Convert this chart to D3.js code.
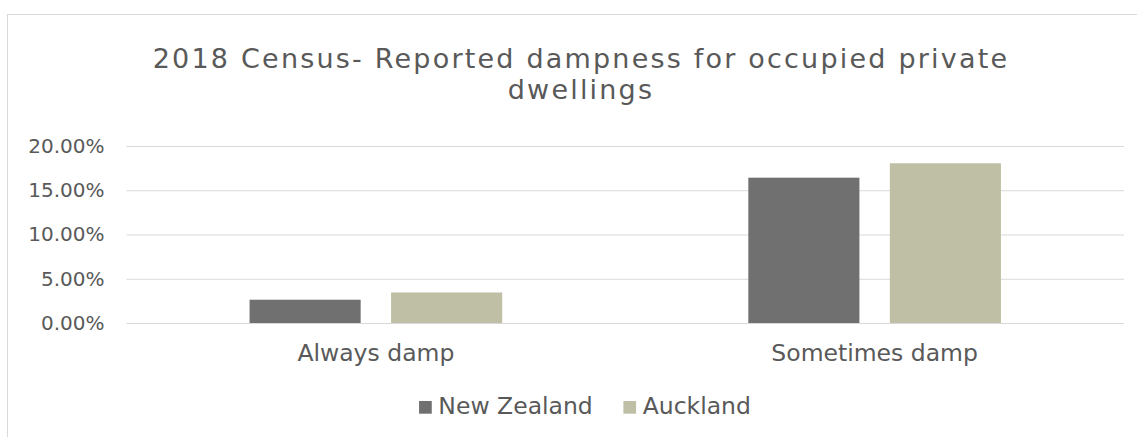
<!DOCTYPE html>
<html>
<head>
<meta charset="utf-8">
<script src="https://cdn.jsdelivr.net/npm/d3@7"></script>
<style>
  body { margin: 0; background: #fff; }
  svg { display: block; font-family: "DejaVu Sans", sans-serif; }
</style>
</head>
<body>
<svg id="chart" width="1137" height="437"></svg>
<script>
// data
var categories = ["Always damp", "Sometimes damp"];
var series = ["New Zealand", "Auckland"];
var newZealand = [0.0263, 0.1642];
var auckland = [0.0345, 0.1805];
var yTicks = [0, 0.05, 0.10, 0.15, 0.20];
var titleLines = ["2018 Census- Reported dampness for occupied private", "dwellings"];

var colors = ["#707070", "#bfbfa5"];
var textColor = "#595959";
var gridColor = "#d9d9d9";

var svg = d3.select("#chart");

var margin = {top: 146, right: 13, bottom: 114, left: 126.5},
    width = 1137 - margin.left - margin.right,
    height = 437 - margin.top - margin.bottom;

// chart area border (runs off the right / bottom of the shot)
svg.append("rect")
  .attr("x", 7.5).attr("y", 14.5)
  .attr("width", 1160).attr("height", 450)
  .attr("fill", "#fff")
  .attr("stroke", gridColor);

// title
var title = svg.append("text")
  .attr("text-anchor", "middle")
  .attr("fill", textColor)
  .style("font-size", "27px")
  .style("letter-spacing", "2.2px");
title.selectAll("tspan")
  .data(titleLines)
  .enter()
  .append("tspan")
    .attr("x", 581)
    .attr("y", function (d, i) { return 68 + i * 30.5; })
    .text(function (d) { return d; });

var g = svg.append("g")
  .attr("transform", "translate(" + margin.left + "," + margin.top + ")");

var y = d3.scaleLinear().domain([0, 0.20]).range([height, 0]);

var x0 = d3.scaleBand()
  .domain(categories)
  .range([0, width])
  .paddingInner(0.4935)
  .paddingOuter(0.24675);

var x1 = d3.scaleBand()
  .domain(series)
  .range([0, x0.bandwidth()])
  .paddingInner(0.215);

// gridlines
g.append("g")
  .call(d3.axisLeft(y).tickValues(yTicks).tickSize(-width).tickFormat(""))
  .call(function (a) {
    a.select(".domain").remove();
    a.selectAll("line").attr("stroke", gridColor);
  });

// y axis labels
g.append("g")
  .call(d3.axisLeft(y).tickValues(yTicks).tickSize(0).tickPadding(22).tickFormat(d3.format(".2%")))
  .call(function (a) {
    a.select(".domain").remove();
    a.selectAll("text")
      .attr("fill", textColor)
      .style("font-size", "20px")
      .style("font-family", "DejaVu Sans, sans-serif");
  });

// bars
var rows = categories.map(function (c, i) {
  return {category: c, values: [newZealand[i], auckland[i]]};
});

g.append("g")
  .selectAll("g")
  .data(rows)
  .enter()
  .append("g")
    .attr("transform", function (d) { return "translate(" + x0(d.category) + ",0)"; })
  .selectAll("rect")
  .data(function (d) {
    return series.map(function (s, j) { return {key: s, value: d.values[j], idx: j}; });
  })
  .enter()
  .append("rect")
    .attr("x", function (d) { return x1(d.key); })
    .attr("y", function (d) { return y(d.value); })
    .attr("width", x1.bandwidth())
    .attr("height", function (d) { return height - y(d.value); })
    .attr("fill", function (d) { return colors[d.idx]; });

// category axis
g.append("g")
  .attr("transform", "translate(0," + height + ")")
  .call(d3.axisBottom(x0).tickSize(0).tickPadding(21.7))
  .call(function (a) {
    a.select(".domain").remove();
    a.selectAll("text")
      .attr("fill", textColor)
      .style("font-size", "23.5px")
      .style("font-family", "DejaVu Sans, sans-serif");
  });

// legend
var legend = svg.append("g");
var items = legend.selectAll("g")
  .data(series)
  .enter()
  .append("g");
items.append("rect")
  .attr("y", 401)
  .attr("width", 12.7).attr("height", 12.7)
  .attr("fill", function (d, i) { return colors[i]; });
items.append("text")
  .attr("x", 19.3)
  .attr("y", 413.7)
  .attr("fill", textColor)
  .style("font-size", "23.5px")
  .text(function (d) { return d; });

var offset = 0;
items.each(function () {
  var item = d3.select(this);
  item.attr("transform", "translate(" + offset + ",0)");
  offset += 19.3 + item.select("text").node().getComputedTextLength() + 30.6;
});
var legendWidth = offset - 30.6;
legend.attr("transform", "translate(" + (585 - legendWidth / 2) + ",0)");
</script>
</body>
</html>
